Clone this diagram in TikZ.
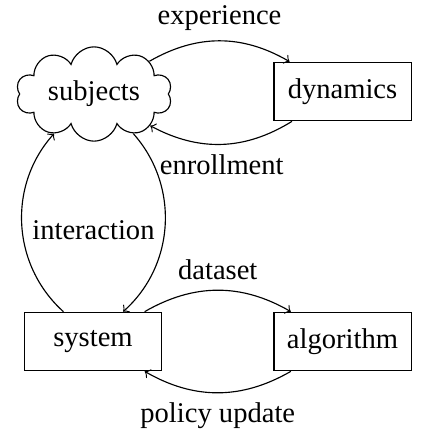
\documentclass[tikz,border=0pt]{standalone}
\usepackage{fontspec}
\setmainfont{Liberation Serif}
\usetikzlibrary{shapes.symbols}

\begin{document}
\begin{tikzpicture}[x=0.35pt, y=0.35pt,
  font=\fontsize{10}{12}\selectfont,
  box/.style={draw, rectangle, minimum width=48pt, minimum height=20.5pt, inner sep=2pt},
  puffy/.style={draw, cloud, cloud puffs=10, cloud ignores aspect, minimum width=54.6pt, minimum height=33pt, inner sep=1pt},
  flow/.style={->, bend left=30},
  loop/.style={->, bend left=45}]
  \useasboundingbox (0,0) rectangle (428,-431);

  \node[puffy] (subjects) at (94,-94) {subjects};
  \node[box] (dynamics) at (342.5,-91.5) {dynamics};
  \node[box] (system) at (93,-341.5) {system};
  \node[box] (algorithm) at (342.5,-341.5) {algorithm};

  \draw[flow] (subjects) to node[above] {experience} (dynamics);
  \draw[flow] (dynamics) to node[below] {enrollment} (subjects);
  \draw[flow] (system) to node[above] {dataset} (algorithm);
  \draw[flow] (algorithm) to node[below] {policy update} (system);
  \draw[loop] (system) to node[pos=0.47, right] {interaction} (subjects);
  \draw[loop] (subjects) to (system);
\end{tikzpicture}
\end{document}
